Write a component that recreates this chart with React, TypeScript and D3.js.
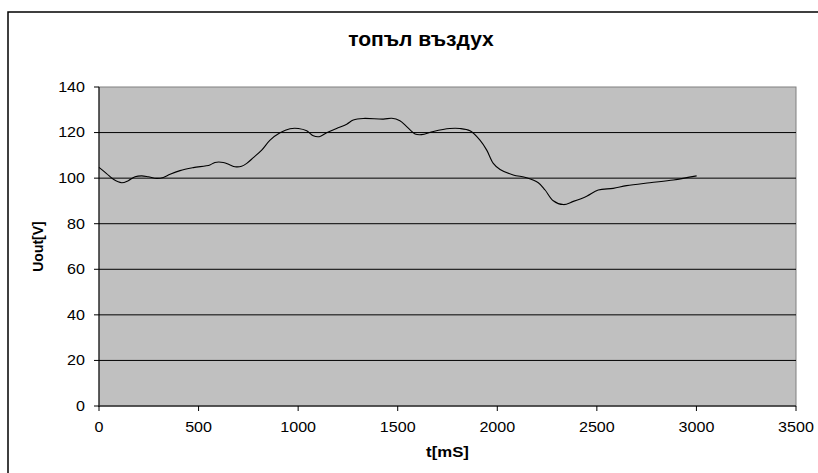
import React from "react";
import * as d3 from "d3";

const title = "топъл въздух";
const xLabel = "t[mS]";
const yLabel = "Uout[V]";
const xTicks = [0, 500, 1000, 1500, 2000, 2500, 3000, 3500];
const yTicks = [0, 20, 40, 60, 80, 100, 120, 140];

const timeMs = [
  0, 38, 72, 114, 147, 181, 214, 248, 290, 323, 357, 407, 474, 557, 582, 624, 658, 683, 716, 742,
  775, 817, 859, 909, 959, 1001, 1043, 1076, 1106, 1143, 1193, 1244, 1277, 1327, 1428, 1470, 1511,
  1545, 1587, 1620, 1679, 1762, 1812, 1863, 1913, 1947, 1980, 2014, 2080, 2147, 2206, 2240, 2281,
  2332, 2382, 2449, 2507, 2582, 2649, 2766, 2884, 3001,
];
const uOut = [
  104.7, 102, 99.5, 98, 98.9, 100.6, 101, 100.6, 99.9, 100.3, 101.7, 103.3, 104.6, 105.8, 106.9, 106.9,
  105.8, 105, 105.2, 106.5, 109, 112.3, 116.7, 119.9, 121.7, 121.8, 120.8, 118.6, 118.2, 119.9, 121.8,
  123.7, 125.5, 126.2, 125.9, 126.3, 125.2, 122.6, 119.4, 119.1, 120.5, 121.8, 121.8, 120.8, 116.7,
  112.3, 106.5, 103.8, 101.4, 100.2, 98, 94.8, 90.1, 88.4, 89.8, 92.1, 94.8, 95.5, 96.7, 98, 99.2, 101,
];

function SText(props: {
  x: number;
  y: number;
  k: number;
  size: number;
  anchor: string;
  bold?: boolean;
  dy?: string;
  children: React.ReactNode;
}) {
  return (
    <text
      transform={`translate(${props.x},${props.y}) scale(${props.k},1)`}
      textAnchor={props.anchor}
      fontSize={props.size}
      fontWeight={props.bold ? "bold" : "normal"}
      dy={props.dy}
      fill="#000"
    >
      {props.children}
    </text>
  );
}

export default function App() {
  const W = 818;
  const H = 473;
  const left = 99, right = 796, top = 87, bottom = 406;
  const x = d3.scaleLinear().domain([0, 3500]).range([left, right]);
  const y = d3.scaleLinear().domain([0, 140]).range([bottom, top]);
  const pts: [number, number][] = timeMs.map((t, i) => [t, uOut[i]]);
  const line = d3
    .line<[number, number]>()
    .x((d) => x(d[0]))
    .y((d) => y(d[1]))
    .curve(d3.curveCatmullRom.alpha(0.5));
  const font = "Arial, 'Liberation Sans', sans-serif";
  return (
    <svg
      width={W}
      height={H}
      style={{ position: "absolute", left: 0, top: 0, background: "#fff" }}
      fontFamily={font}
    >
      <rect x={8} y={12} width={830} height={480} fill="#fff" stroke="#000" strokeWidth={1.5} />
      <SText x={421} y={46} k={1.08} size={19.5} anchor="middle" bold>
        {title}
      </SText>
      <rect x={left} y={top} width={right - left} height={bottom - top} fill="#c0c0c0" stroke="#808080" strokeWidth={1} />
      {yTicks.map((v) => (
        <g key={"y" + v}>
          {v > 0 && v < 140 && (
            <line x1={left} x2={right} y1={y(v)} y2={y(v)} stroke="#000" strokeWidth={1} />
          )}
          <line x1={left - 5} x2={left} y1={y(v)} y2={y(v)} stroke="#000" strokeWidth={1} />
          <SText x={left - 14} y={y(v)} k={1.15} size={14} anchor="end" dy="0.35em">
            {v}
          </SText>
        </g>
      ))}
      <line x1={left} x2={left} y1={top} y2={bottom + 1} stroke="#000" strokeWidth={1} />
      <line x1={left} x2={right} y1={bottom} y2={bottom} stroke="#333" strokeWidth={1.5} />
      {xTicks.map((t) => (
        <g key={"x" + t}>
          <line x1={x(t)} x2={x(t)} y1={bottom} y2={bottom + 5} stroke="#000" strokeWidth={1} />
          <SText x={x(t)} y={432} k={1.15} size={14} anchor="middle">
            {t}
          </SText>
        </g>
      ))}
      <path d={line(pts) || ""} fill="none" stroke="#000" strokeWidth={1.1} />
      <SText x={(left + right) / 2} y={457} k={1.2} size={14} anchor="middle" bold>
        {xLabel}
      </SText>
      <text
        transform={`translate(43, ${(top + bottom) / 2}) rotate(-90)`}
        textAnchor="middle"
        fontWeight="bold"
        fontSize={14}
        fill="#000"
      >
        {yLabel}
      </text>
    </svg>
  );
}
